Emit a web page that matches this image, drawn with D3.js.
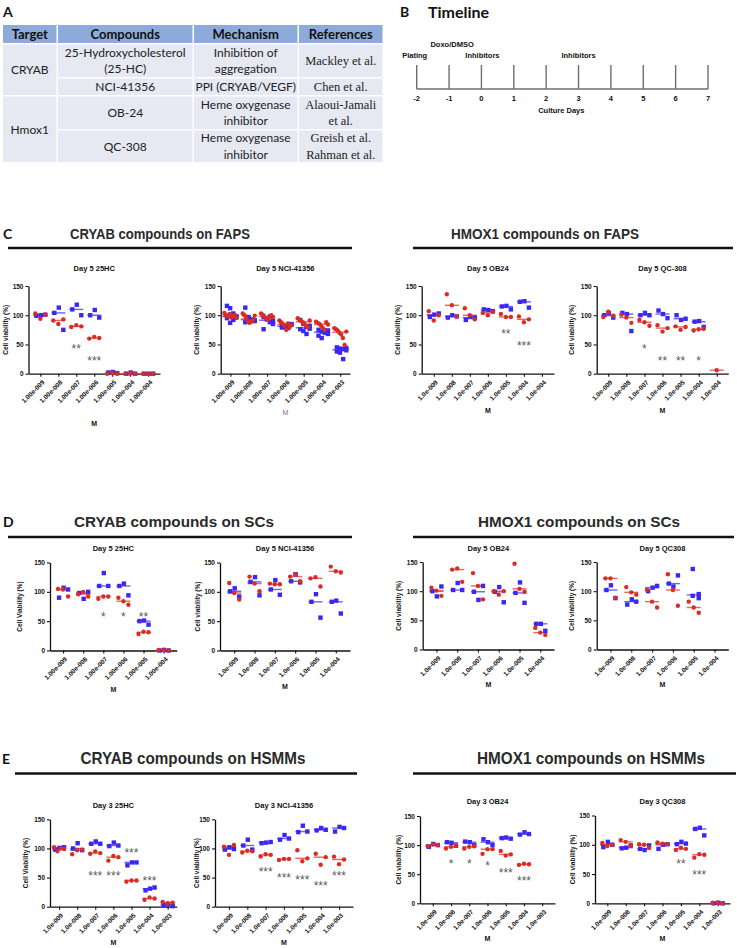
<!DOCTYPE html>
<html><head><meta charset="utf-8">
<script src="https://cdn.jsdelivr.net/npm/d3@7"></script>
<style>body{margin:0;background:#fff}svg{display:block}</style>
</head><body><svg id="fig" width="737" height="948"></svg>
<script>
// ================= DATA =================
const tableColumns = ["Target", "Compounds", "Mechanism", "References"];
const tableTargets = ["CRYAB", "Hmox1"];
const tableCompounds = [["25-Hydroxycholesterol", "(25-HC)"], ["NCI-41356"], ["OB-24"], ["QC-308"]];
const tableMechanisms = [["Inhibition of", "aggregation"], ["PPI (CRYAB/VEGF)"], ["Heme oxygenase", "inhibitor"], ["Heme oxygenase", "inhibitor"]];
const tableReferences = [["Mackley et al."], ["Chen et al."], ["Alaoui-Jamali", "et al."], ["Greish et al.", "Rahman et al."]];

const timelineDays = [-2, -1, 0, 1, 2, 3, 4, 5, 6, 7];
const timelineEventDays = [-2, -1, 0, 3];
const timelineEventLabels = ["Plating", "Doxo/DMSO", "Inhibitors", "Inhibitors"];

const sectionTitles = [
  ["CRYAB compounds on FAPS", "HMOX1 compounds on FAPS"],
  ["CRYAB compounds on SCs", "HMOX1 compounds on SCs"],
  ["CRYAB compounds on HSMMs", "HMOX1 compounds on HSMMs"]
];
const yTicks = [0, 50, 100, 150];

// --- C: FAPS ---
const dosesC1 = ["1.00e-009", "1.00e-008", "1.00e-007", "1.00e-006", "1.00e-005", "1.00e-004", "1.00e-004"];
const redC1 = [[103, 94, 101], [91, 85, 93], [80, 83, 81], [60, 63, 61], [0, 1, 0], [0, 0, 0], [0, 0, 0]];
const blueC1 = [[100, 99, 101], [113, 104, 75], [118, 110, 100], [109, 100, 96], [3, 2, 1], [2, 0, 0], [0, 0, 0]];
const starsC1 = [[2, 47, "**"], [3, 26, "***"]];

const dosesC2 = ["1.00e-009", "1.00e-008", "1.00e-007", "1.00e-006", "1.00e-005", "1.00e-004", "1.00e-003"];
const redC2 = [[104, 100, 98, 102, 96, 99, 101, 95], [103, 100, 95, 90, 87, 89, 92, 99], [103, 101, 98, 95, 92, 96, 100, 97],
  [91, 88, 85, 82, 75, 86, 80, 83], [95, 92, 90, 88, 85, 82, 80, 91], [89, 87, 85, 82, 78, 75, 88, 84], [78, 76, 74, 70, 67, 61, 49, 72]];
const blueC2 = [[116, 112, 103, 97, 95, 87, 92, 98], [113, 97, 93, 90, 88, 96, 92, 91], [97, 95, 88, 85, 76, 93, 98, 90],
  [83, 80, 78, 85, 79, 82, 80, 84], [92, 85, 80, 77, 76, 73, 68, 82], [75, 72, 70, 68, 65, 61, 73, 74], [45, 43, 42, 40, 38, 36, 25, 44]];
const starsC2 = [];

const dosesC3 = ["1.0e-009", "1.0e-008", "1.0e-007", "1.0e-006", "1.0e-005", "1.0e-004", "1.0e-004"];
const redC3 = [[107, 91, 100], [136, 117, 98], [112, 100, 93], [104, 100, 106], [102, 97, 97], [98, 88, 93], []];
const blueC3 = [[101, 97, 103], [100, 96, 98], [97, 92, 96], [109, 110, 107], [116, 115, 110], [124, 123, 113], []];
const starsC3 = [[4, 73, "**"], [5, 52, "***"]];

const dosesC4 = ["1.0e-009", "1.0e-008", "1.0e-007", "1.0e-006", "1.0e-005", "1.0e-004", "1.0e-004"];
const redC4 = [[97, 106, 99], [101, 96, 87], [92, 88, 82], [83, 72, 78], [81, 75, 80], [74, 76, 77], [6]];
const blueC4 = [[104, 100, 96], [102, 104, 73], [104, 100, 100], [102, 108, 95], [92, 100, 94], [90, 89, 80], []];
const starsC4 = [[2, 48, "*"], [3, 26, "**"], [4, 26, "**"], [5, 26, "*"]];

// --- D: SCs ---
const dosesD1 = ["1.00e-009", "1.00e-008", "1.00e-007", "1.00e-006", "1.00e-005", "1.00e-004"];
const redD1 = [[105, 104, 92], [96, 100, 92], [88, 92, 92], [90, 84, 78], [28, 32, 31], [1, 1, 0]];
const blueD1 = [[107, 90, 104], [88, 98, 100], [132, 110, 110], [114, 110, 94], [51, 50, 44], [1, 0, 0]];
const starsD1 = [[2, 63, "*"], [3, 63, "*"], [4, 63, "**"]];

const dosesD2 = ["1.0e-009", "1.0e-008", "1.0e-007", "1.0e-006", "1.0e-005", "1.0e-004"];
const redD2 = [[115, 98, 87], [126, 114, 101], [114, 113, 113], [126, 130, 118], [123, 125, 109], [143, 135, 133]];
const blueD2 = [[106, 101, 92], [125, 117, 94], [120, 104, 95], [130, 118, 116], [96, 83, 56], [85, 83, 63]];
const starsD2 = [];

const dosesD3 = ["1.0e-009", "1.0e-008", "1.0e-007", "1.0e-006", "1.0e-005", "1.0e-004"];
const redD3 = [[106, 101, 92], [137, 139, 116], [131, 109, 86], [100, 94, 100], [147, 104, 99], [37, 29, 25]];
const blueD3 = [[91, 100, 108], [114, 102, 102], [85, 99, 109], [107, 99, 81], [115, 97, 80], [44, 44, 32]];
const starsD3 = [];

const dosesD4 = ["1.0e-009", "1.0e-008", "1.0e-007", "1.0e-006", "1.0e-005", "1.0e-004"];
const redD4 = [[122, 122, 89], [107, 98, 94], [102, 82, 72], [129, 102, 75], [82, 72, 63], []];
const blueD4 = [[110, 102, 88], [86, 77, 82], [106, 100, 109], [108, 113, 127], [138, 95, 92, 88], []];
const starsD4 = [];

// --- E: HSMMs ---
const dosesE = ["1.0e-009", "1.0e-008", "1.0e-007", "1.0e-006", "1.0e-005", "1.0e-004", "1.0e-003"];
const redE1 = [[102, 95, 100, 99], [90, 97, 98], [91, 95, 92], [79, 87, 85], [43, 45, 45], [12, 16, 14], [8, 6, 7]];
const blueE1 = [[101, 98, 102], [109, 100, 97], [112, 108, 108], [110, 104, 105], [76, 71, 76], [31, 28, 33], [4, 3, 1]];
const starsE1 = [[2, 57, "***"], [3, 57, "***"], [4, 97, "***"], [5, 50, "***"]];

const redE2 = [[103, 89, 106], [93, 96, 95], [86, 90, 89], [80, 82, 82], [97, 78, 83], [91, 72, 85], [86, 73, 81]];
const blueE2 = [[102, 98, 99], [115, 105, 98], [110, 109, 111], [123, 115, 117], [139, 128, 129], [135, 131, 132], [137, 129, 135]];
const starsE2 = [[2, 65, "***"], [3, 55, "***"], [4, 51, "***"], [5, 40, "***"], [6, 57, "***"]];

const redE3 = [[98, 101, 100], [94, 97, 99], [94, 97, 98], [85, 93, 93], [90, 82, 84], [66, 68, 67], []];
const blueE3 = [[102, 97, 100], [104, 105, 99], [105, 106, 100], [105, 110, 100], [113, 112, 111], [122, 118, 119], []];
const starsE3 = [[1, 73, "*"], [2, 73, "*"], [3, 70, "*"], [4, 57, "***"], [5, 43, "***"]];

const redE4 = [[103, 98, 100], [108, 105, 99], [101, 100, 95], [104, 102, 101], [91, 95, 93], [78, 84, 83], [1, 1, 0]];
const blueE4 = [[105, 96, 100], [95, 94, 99], [91, 93, 99], [100, 93, 101], [105, 101, 102], [129, 127, 116], [1, 0, 0]];
const starsE4 = [[4, 72, "**"], [5, 53, "***"]];

// ================= DRAWING =================
const svg = d3.select("#fig");
const SANS = "'Liberation Sans', Arial, Helvetica, sans-serif";
const CAL = "Lato, 'Open Sans', sans-serif";
const SERIF = "'Liberation Serif', 'Times New Roman', serif";
const RED = "#dc2b24", BLUE = "#3a27f2";
const RED_LINE = "#e4564f", BLUE_LINE = "#5f52f5";

function txt(g, s, x, y, o = {}) {
  return g.append("text").attr("x", x).attr("y", y).text(s)
    .attr("font-family", o.family || SANS).attr("font-size", o.size || 10)
    .attr("font-weight", o.weight || "normal").attr("fill", o.fill || "#111")
    .attr("text-anchor", o.anchor || "start");
}

// Panel letters
[["A", 3, 17], ["B", 400, 17], ["C", 3, 239], ["D", 3, 527], ["E", 2, 764]].forEach(d =>
  txt(svg, d[0], d[1], d[2], { size: 14, weight: "bold", family: CAL }));

// ---------- Table (A) ----------
(function () {
  const g = svg.append("g");
  const colX = [3, 58, 194, 299, 384];
  const rowY = [25, 44.5, 78.5, 96.5, 130.5, 163.5];
  const gap = 1.5;
  const cell = (x0, x1, y0, y1, fill) => g.append("rect").attr("x", x0).attr("y", y0)
    .attr("width", x1 - x0 - gap).attr("height", y1 - y0 - gap).attr("fill", fill);
  tableColumns.forEach((c, i) => {
    cell(colX[i], colX[i + 1], rowY[0], rowY[1], "#8eaadb");
    txt(g, c, (colX[i] + colX[i + 1] - gap) / 2, 39, { size: 13, weight: "bold", anchor: "middle", family: CAL, fill: "#111" });
  });
  const BODY = "#e6e8f2";
  tableTargets.forEach((t, k) => {
    const y0 = rowY[1 + 2 * k], y1 = rowY[3 + 2 * k];
    cell(colX[0], colX[1], y0, y1, BODY);
    txt(g, t, (colX[0] + colX[1] - gap) / 2, (y0 + y1 - gap) / 2 + 4.5, { size: 12, anchor: "middle", family: CAL, fill: "#222" });
  });
  const cols = [tableCompounds, tableMechanisms, tableReferences];
  cols.forEach((col, ci) => {
    col.forEach((lines, r) => {
      const y0 = rowY[1 + r], y1 = rowY[2 + r];
      cell(colX[ci + 1], colX[ci + 2], y0, y1, BODY);
      const cx = (colX[ci + 1] + colX[ci + 2] - gap) / 2, cy = (y0 + y1 - gap) / 2;
      const lh = 16.5;
      lines.forEach((s, li) => {
        const yy = cy + (li - (lines.length - 1) / 2) * lh + 4.3;
        txt(g, s, cx, yy, { size: ci === 2 ? 12.5 : 12, anchor: "middle", family: ci === 2 ? SERIF : CAL, fill: "#222" });
      });
    });
  });
})();

// ---------- Timeline (B) ----------
(function () {
  const g = svg.append("g");
  txt(g, "Timeline", 428, 18, { size: 16, weight: "bold", family: CAL, fill: "#111" });
  const x = d3.scaleLinear().domain([-2, 7]).range([416.7, 708]);
  const base = 89, top = 65;
  g.append("line").attr("x1", x(-2)).attr("x2", x(7)).attr("y1", base).attr("y2", base)
    .attr("stroke", "#6f6f6f").attr("stroke-width", 1.6);
  timelineDays.forEach(d => {
    g.append("line").attr("x1", x(d)).attr("x2", x(d)).attr("y1", top).attr("y2", base)
      .attr("stroke", "#6f6f6f").attr("stroke-width", 1.4);
    txt(g, String(d), x(d), 101, { size: 7.5, weight: "bold", anchor: "middle" });
  });
  txt(g, "Culture Days", x(2.5) - 1, 113, { size: 7.5, weight: "bold", anchor: "middle" });
  const evY = [58, 47, 58, 58];
  const evDx = [-2, 3, 1, 0];
  timelineEventDays.forEach((d, i) => {
    txt(g, timelineEventLabels[i], x(d) + evDx[i], evY[i], { size: 7.5, weight: "bold", anchor: "middle" });
  });
})();

// ---------- Section headers ----------
const headerLayout = [
  { y: 239, ly: 248, size: 14, L: { cx: 160, len: 180, x1: 8, x2: 352 }, R: { cx: 545, len: 188, x1: 413, x2: 733 } },
  { y: 527, ly: 537, size: 15, L: { cx: 174, len: 200, x1: 8, x2: 352 }, R: { cx: 579, len: 202, x1: 413, x2: 734 } },
  { y: 764, ly: 773.5, size: 16.5, L: { cx: 193, len: 225, x1: 15, x2: 357 }, R: { cx: 591, len: 228, x1: 413, x2: 736 } }
];
headerLayout.forEach((h, i) => {
  [h.L, h.R].forEach((s, j) => {
    txt(svg, sectionTitles[i][j], s.cx, h.y, { size: h.size, weight: "bold", anchor: "middle", fill: "#2a2a2a" })
      .attr("textLength", s.len).attr("lengthAdjust", "spacingAndGlyphs");
    svg.append("line").attr("x1", s.x1).attr("x2", s.x2).attr("y1", h.ly).attr("y2", h.ly)
      .attr("stroke", "#111").attr("stroke-width", 2.6);
  });
});

// ---------- Scatter panels ----------
const panels = [
  { title: "Day 5 25HC", doses: dosesC1, red: redC1, blue: blueC1, stars: starsC1, left: 28.5, right: 160, top: 286, bottom: 373.7, pad: 0.66, titleY: 268, ylabX: 6, mY: 423, ylab: "Cell viability (%)" },
  { title: "Day 5 NCI-41356", doses: dosesC2, red: redC2, blue: blueC2, stars: starsC2, left: 220.7, right: 350, top: 286, bottom: 373.7, pad: 0.53, titleY: 268, ylabX: 197, mY: 412, ylab: "Cell viability (%)", mGrey: true, spread: 6 },
  { title: "Day 5 OB24", doses: dosesC3, red: redC3, blue: blueC3, stars: starsC3, left: 421.7, right: 554, top: 286, bottom: 373.7, pad: 0.67, titleY: 268, ylabX: 398, mY: 410, ylab: "Cell viability (%)" },
  { title: "Day 5 QC-308", doses: dosesC4, red: redC4, blue: blueC4, stars: starsC4, left: 596.7, right: 728.3, top: 286, bottom: 373.7, pad: 0.64, titleY: 268, ylabX: 572, mY: 410, ylab: "Cell viability (%)" },

  { title: "Day 5 25HC", doses: dosesD1, red: redD1, blue: blueD1, stars: starsD1, left: 50, right: 176.7, top: 562.5, bottom: 650.5, pad: 0.65, titleY: 548, ylabX: 20, mY: 689, ylab: "Cell Viability (%)" },
  { title: "Day 5 NCI-41356", doses: dosesD2, red: redD2, blue: blueD2, stars: starsD2, left: 220, right: 350, top: 562.5, bottom: 650.5, pad: 0.7, titleY: 548, ylabX: 198, mY: 686, ylab: "Cell viability (%)" },
  { title: "Day 5 OB24", doses: dosesD3, red: redD3, blue: blueD3, stars: starsD3, left: 422.7, right: 554, top: 562, bottom: 649.5, pad: 0.66, titleY: 548, ylabX: 399, mY: 684, ylab: "Cell viability (%)" },
  { title: "Day 5 QC308", doses: dosesD4, red: redD4, blue: blueD4, stars: starsD4, left: 596.7, right: 728.3, top: 562, bottom: 649.5, pad: 0.66, titleY: 548, ylabX: 572, mY: 684, ylab: "Cell viability (%)" },

  { title: "Day 3 25HC", doses: dosesE, red: redE1, blue: blueE1, stars: starsE1, left: 50, right: 176.7, top: 819.3, bottom: 906.7, pad: 0.5, titleY: 805, ylabX: 26, mY: 942.5, ylab: "Cell Viability (%)" },
  { title: "Day 3 NCI-41356", doses: dosesE, red: redE2, blue: blueE2, stars: starsE2, left: 215, right: 353, top: 819.3, bottom: 906.7, pad: 0.76, titleY: 805, ylabX: 197, mY: 942.5, ylab: "Cell viability (%)" },
  { title: "Day 3 OB24", doses: dosesE, red: redE3, blue: blueE3, stars: starsE3, left: 420, right: 555, top: 816, bottom: 903.3, pad: 0.7, titleY: 801.7, ylabX: 399, mY: 938.3, ylab: "Cell viability (%)" },
  { title: "Day 3 QC308", doses: dosesE, red: redE4, blue: blueE4, stars: starsE4, left: 595, right: 730, top: 815.5, bottom: 903.3, pad: 0.67, titleY: 801.7, ylabX: 573, mY: 938.3, ylab: "Cell viability (%)" }
];

function offsets(n, spread, shift) {
  if (n <= 1) return [shift];
  return d3.range(n).map(i => -spread + 2 * spread * i / (n - 1) + shift);
}

function drawPanel(p) {
  const g = svg.append("g");
  const idx = d3.range(p.doses.length);
  const x = d3.scalePoint().domain(idx).range([p.left, p.right]).padding(p.pad);
  const y = d3.scaleLinear().domain([0, 150]).range([p.bottom, p.top]);
  const spread = p.spread || 5;

  const ya = g.append("g").attr("transform", `translate(${p.left},0)`)
    .call(d3.axisLeft(y).tickValues(yTicks).tickSize(3).tickSizeOuter(0).tickPadding(2));
  const xa = g.append("g").attr("transform", `translate(0,${p.bottom})`)
    .call(d3.axisBottom(x).tickFormat(i => p.doses[i]).tickSize(3).tickSizeOuter(0));
  [ya, xa].forEach(a => {
    a.select(".domain").attr("stroke", "#111").attr("stroke-width", 1.3);
    a.selectAll(".tick line").attr("stroke", "#111").attr("stroke-width", 1.1);
    a.selectAll("text").attr("font-family", SANS).attr("font-size", 6.5).attr("font-weight", "bold").attr("fill", "#111");
  });
  xa.selectAll(".tick text").attr("x", 0).attr("y", 0).attr("dy", "0.35em")
    .attr("text-anchor", "end").attr("transform", "translate(2.5,7.5) rotate(-45)");

  const groups = [];
  idx.forEach(i => {
    groups.push({ i, vals: p.blue[i], color: BLUE, line: BLUE_LINE, kind: "b" });
    groups.push({ i, vals: p.red[i], color: RED, line: RED_LINE, kind: "r" });
  });
  groups.forEach(gr => {
    if (!gr.vals.length) return;
    const m = d3.median(gr.vals);
    const hw = spread + 2;
    g.append("line").attr("x1", x(gr.i) - hw).attr("x2", x(gr.i) + hw)
      .attr("y1", y(m)).attr("y2", y(m)).attr("stroke", gr.line).attr("stroke-width", 1.4).attr("opacity", 0.9);
  });
  groups.filter(d => d.kind === "b").forEach(gr => {
    const n = gr.vals.length;
    const off = offsets(n, spread - 0.5, 0.5);
    const order = d3.range(n).map(k => (k * 2 + 1) % Math.max(n, 1));
    g.selectAll(null).data(gr.vals).enter().append("rect")
      .attr("x", (v, k) => x(gr.i) + off[order[k]] - 2.2).attr("y", v => y(v) - 2.2)
      .attr("width", 4.4).attr("height", 4.4).attr("fill", gr.color);
  });
  groups.filter(d => d.kind === "r").forEach(gr => {
    const off = offsets(gr.vals.length, spread, 0);
    g.selectAll(null).data(gr.vals).enter().append("circle")
      .attr("cx", (v, k) => x(gr.i) + off[k]).attr("cy", v => y(v))
      .attr("r", 2.2).attr("fill", gr.color);
  });
  p.stars.forEach(s => {
    txt(g, s[2], x(s[0]), y(s[1]) + 7, { size: 12, anchor: "middle", fill: "#5a5a5a" });
  });
  const cx = (p.left + p.right) / 2;
  txt(g, p.title, cx, p.titleY + 2.7, { size: 7.5, weight: "bold", anchor: "middle" });
  txt(g, "M", cx, p.mY + 2.5, p.mGrey ? { size: 7, anchor: "middle", fill: "#777" } : { size: 7, weight: "bold", anchor: "middle" });
  g.append("text").text(p.ylab)
    .attr("transform", `translate(${p.ylabX + 2.3},${(p.top + p.bottom) / 2}) rotate(-90)`)
    .attr("text-anchor", "middle").attr("font-family", SANS).attr("font-size", 6.5)
    .attr("font-weight", "bold").attr("fill", "#111");
}
panels.forEach(drawPanel);
</script>
</body></html>
